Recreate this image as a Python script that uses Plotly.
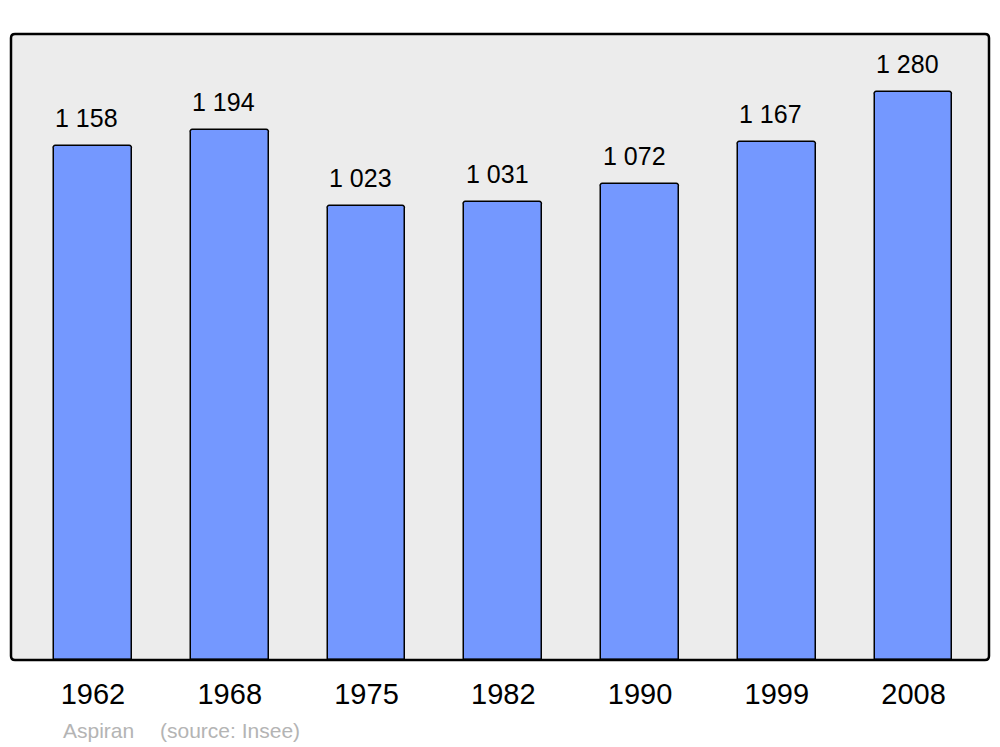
import plotly.graph_objects as go

years = ["1962", "1968", "1975", "1982", "1990", "1999", "2008"]
population = [1158, 1194, 1023, 1031, 1072, 1167, 1280]
labels = ["1 158", "1 194", "1 023", "1 031", "1 072", "1 167", "1 280"]
commune = "Aspiran"
source = "(source: Insee)"

W, H = 1000, 747
L, R, T, B = 11, 11, 34, 87
pw, ph = W - L - R, H - T - B

xs = list(range(len(years)))

fig = go.Figure()
fig.add_trace(go.Bar(
    x=xs, y=population, width=0.57,
    marker=dict(color="#7498ff", line=dict(color="#000000", width=1.5), cornerradius=3),
    hoverinfo="skip",
))

for x, v, t in zip(xs, population, labels):
    fig.add_annotation(x=x, y=v, text=t, showarrow=False, yshift=28, xshift=-6,
                       font=dict(family="Liberation Sans", size=25, color="#000"))

# rounded border
r = 4
rx, ry = r / pw, r / ph
path = (f"M {rx},0 L {1-rx},0 Q 1,0 1,{ry} L 1,{1-ry} Q 1,1 {1-rx},1 "
        f"L {rx},1 Q 0,1 0,{1-ry} L 0,{ry} Q 0,0 {rx},0 Z")
fig.add_shape(type="path", path=path, xref="paper", yref="paper",
              line=dict(color="#000", width=2.5), layer="above")

fig.add_annotation(x=(61 - L) / pw, y=-(730 - 660) / ph, xref="paper", yref="paper",
                   text=commune, showarrow=False, xanchor="left", yanchor="middle",
                   font=dict(family="Liberation Sans", size=21, color="#b4b4b4"))
fig.add_annotation(x=(158 - L) / pw, y=-(730 - 660) / ph, xref="paper", yref="paper",
                   text=source, showarrow=False, xanchor="left", yanchor="middle",
                   font=dict(family="Liberation Sans", size=21, color="#b4b4b4"))

fig.update_layout(
    width=W, height=H,
    margin=dict(l=L, r=R, t=T, b=B, pad=0),
    paper_bgcolor="#ffffff", plot_bgcolor="#ececec",
    showlegend=False, bargap=0,
    xaxis=dict(range=[-0.5995, 6.552], tickvals=xs, ticktext=years,
               showgrid=False, zeroline=False, showline=False, ticks="",
               ticklabelstandoff=14,
               tickfont=dict(family="Liberation Sans", size=29, color="#000")),
    yaxis=dict(range=[0, 1410.6], showgrid=False, zeroline=False,
               showticklabels=False, showline=False, ticks=""),
)

fig.write_html("out.html", config={"displayModeBar": False},
               post_script="document.body.style.margin='0';document.body.style.overflow='hidden';")
